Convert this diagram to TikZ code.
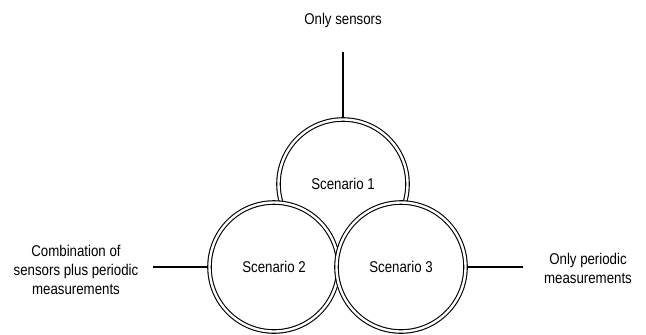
\documentclass[tikz,border=0pt]{standalone}
\usepackage{fontspec}
\setmainfont[FakeStretch=0.85]{Liberation Sans}
\begin{document}
\begin{tikzpicture}[x=1bp,y=-1bp,
  scen/.style={circle,draw,double,line width=1.1bp,double distance=2.4bp,
    fill=white,minimum size=129bp,inner sep=0pt,outer sep=2.3bp,
    font=\fontsize{15.6bp}{19bp}\selectfont},
  lbl/.style={align=center,font=\fontsize{15.6bp}{19bp}\selectfont},
  link/.style={line width=1.3bp}]
\useasboundingbox (0,0) rectangle (646,334);
% scenarios
\node[scen] (c1) at (343,184) {Scenario 1};
\node[scen] (c2) at (274,267) {Scenario 2};
\node[scen] (c3) at (401,267) {Scenario 3};
% labels
\node[lbl] (l1) at (343,20) {Only sensors};
\node[lbl] (l2) at (76,270) {Combination of\\sensors plus periodic\\measurements};
\node[lbl] (l3) at (588,268) {Only periodic\\measurements};
% connectors
\coordinate (t1) at (343,52);
\coordinate (t2) at (153,267);
\coordinate (t3) at (523,267);
\draw[link] (t1) -- (c1.north);
\draw[link] (t2) -- (c2.west);
\draw[link] (c3.east) -- (t3);
\end{tikzpicture}
\end{document}
